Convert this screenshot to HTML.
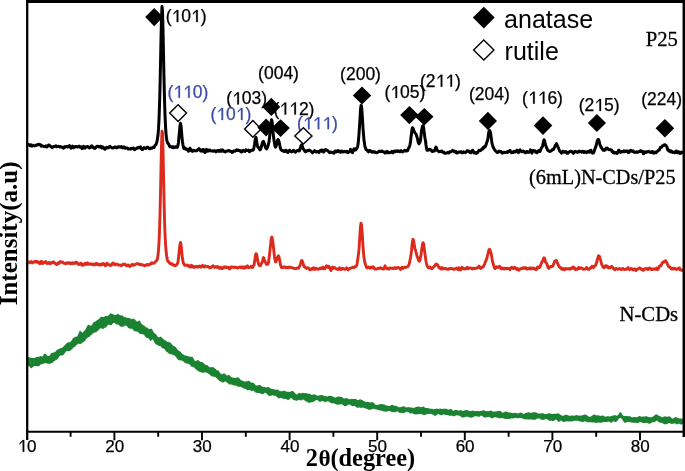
<!DOCTYPE html>
<html><head><meta charset="utf-8"><style>
html,body{margin:0;padding:0;background:#fff;}
body{width:685px;height:471px;overflow:hidden;font-family:"Liberation Sans",sans-serif;}
svg{display:block;}
</style></head><body>
<svg style="will-change:transform" width="685" height="471" viewBox="0 0 685 471">
<rect width="685" height="471" fill="#fff"/>
<path d="M28.0 357.0 L29.0 357.2 L30.0 357.6 L31.0 358.0 L32.0 358.1 L33.0 358.1 L34.0 357.8 L35.0 358.3 L36.0 357.0 L37.0 357.1 L38.0 356.7 L39.0 357.0 L40.0 356.1 L41.0 356.1 L42.0 356.7 L43.0 356.0 L44.0 353.7 L45.0 353.7 L46.0 353.9 L47.0 355.6 L48.0 356.0 L49.0 356.1 L50.0 355.3 L51.0 353.2 L52.0 353.0 L53.0 352.4 L54.0 352.5 L55.0 352.1 L56.0 350.9 L57.0 349.7 L58.0 349.4 L59.0 348.7 L60.0 348.6 L61.0 347.9 L62.0 348.1 L63.0 347.1 L64.0 346.1 L65.0 344.8 L66.0 344.1 L67.0 342.8 L68.0 342.5 L69.0 341.9 L70.0 342.4 L71.0 340.9 L72.0 339.9 L73.0 337.9 L74.0 337.7 L75.0 336.8 L76.0 336.7 L77.0 336.4 L78.0 335.1 L79.0 332.3 L80.0 330.6 L81.0 331.6 L82.0 332.4 L83.0 332.6 L84.0 330.7 L85.0 330.6 L86.0 328.2 L87.0 326.4 L88.0 324.4 L89.0 325.0 L90.0 325.6 L91.0 325.8 L92.0 325.0 L93.0 322.8 L94.0 322.3 L95.0 321.4 L96.0 321.2 L97.0 319.9 L98.0 319.7 L99.0 318.8 L100.0 318.0 L101.0 316.6 L102.0 317.1 L103.0 316.8 L104.0 317.3 L105.0 315.9 L106.0 316.1 L107.0 315.7 L108.0 316.3 L109.0 314.8 L110.0 314.1 L111.0 312.9 L112.0 314.0 L113.0 313.9 L114.0 315.1 L115.0 315.3 L116.0 314.8 L117.0 314.5 L118.0 313.4 L119.0 314.7 L120.0 315.1 L121.0 315.4 L122.0 315.6 L123.0 315.6 L124.0 317.4 L125.0 316.4 L126.0 317.7 L127.0 317.6 L128.0 317.9 L129.0 318.0 L130.0 318.0 L131.0 319.5 L132.0 318.5 L133.0 318.9 L134.0 318.5 L135.0 319.7 L136.0 320.6 L137.0 321.8 L138.0 321.3 L139.0 320.5 L140.0 320.8 L141.0 323.0 L142.0 324.3 L143.0 324.9 L144.0 325.4 L145.0 326.3 L146.0 327.6 L147.0 327.2 L148.0 328.5 L149.0 328.7 L150.0 329.2 L151.0 328.6 L152.0 329.0 L153.0 330.9 L154.0 332.8 L155.0 333.7 L156.0 334.0 L157.0 335.7 L158.0 336.9 L159.0 337.6 L160.0 336.8 L161.0 336.8 L162.0 337.7 L163.0 338.7 L164.0 339.5 L165.0 340.5 L166.0 340.6 L167.0 341.8 L168.0 341.8 L169.0 342.3 L170.0 342.3 L171.0 343.3 L172.0 344.5 L173.0 345.6 L174.0 346.0 L175.0 346.7 L176.0 347.2 L177.0 348.9 L178.0 350.0 L179.0 351.0 L180.0 351.2 L181.0 352.3 L182.0 353.4 L183.0 354.6 L184.0 354.6 L185.0 355.7 L186.0 355.3 L187.0 356.3 L188.0 355.7 L189.0 356.7 L190.0 356.6 L191.0 357.0 L192.0 356.5 L193.0 357.6 L194.0 359.4 L195.0 361.0 L196.0 361.3 L197.0 360.0 L198.0 360.3 L199.0 360.5 L200.0 361.8 L201.0 362.0 L202.0 362.1 L203.0 362.4 L204.0 363.6 L205.0 364.4 L206.0 365.1 L207.0 365.0 L208.0 365.8 L209.0 366.7 L210.0 367.5 L211.0 367.1 L212.0 367.2 L213.0 367.3 L214.0 367.4 L215.0 368.6 L216.0 369.3 L217.0 370.5 L218.0 370.3 L219.0 371.1 L220.0 372.9 L221.0 373.7 L222.0 374.6 L223.0 373.5 L224.0 373.6 L225.0 373.4 L226.0 375.0 L227.0 375.6 L228.0 375.2 L229.0 374.9 L230.0 375.4 L231.0 376.9 L232.0 377.3 L233.0 377.8 L234.0 377.7 L235.0 378.1 L236.0 377.8 L237.0 377.8 L238.0 376.9 L239.0 377.9 L240.0 378.9 L241.0 380.3 L242.0 380.3 L243.0 381.0 L244.0 381.0 L245.0 381.9 L246.0 380.9 L247.0 381.4 L248.0 380.4 L249.0 380.9 L250.0 381.4 L251.0 382.4 L252.0 382.7 L253.0 382.5 L254.0 383.2 L255.0 384.6 L256.0 385.5 L257.0 385.4 L258.0 385.4 L259.0 384.8 L260.0 385.0 L261.0 385.5 L262.0 386.8 L263.0 386.8 L264.0 387.0 L265.0 386.9 L266.0 387.6 L267.0 387.2 L268.0 387.1 L269.0 387.2 L270.0 388.1 L271.0 388.7 L272.0 389.0 L273.0 389.0 L274.0 389.3 L275.0 389.8 L276.0 389.6 L277.0 389.8 L278.0 389.5 L279.0 390.4 L280.0 391.2 L281.0 391.0 L282.0 391.4 L283.0 390.5 L284.0 391.0 L285.0 390.8 L286.0 391.4 L287.0 391.7 L288.0 391.7 L289.0 391.7 L290.0 391.9 L291.0 391.2 L292.0 391.0 L293.0 391.0 L294.0 392.0 L295.0 393.0 L296.0 394.3 L297.0 394.4 L298.0 393.7 L299.0 392.7 L300.0 393.0 L301.0 393.5 L302.0 393.0 L303.0 392.7 L304.0 393.0 L305.0 393.2 L306.0 393.1 L307.0 393.5 L308.0 393.4 L309.0 394.1 L310.0 393.6 L311.0 394.8 L312.0 394.8 L313.0 394.6 L314.0 394.5 L315.0 394.2 L316.0 395.2 L317.0 395.4 L318.0 395.8 L319.0 395.5 L320.0 395.3 L321.0 394.9 L322.0 394.9 L323.0 395.3 L324.0 395.9 L325.0 395.9 L326.0 396.2 L327.0 396.4 L328.0 396.2 L329.0 395.8 L330.0 395.7 L331.0 395.9 L332.0 395.9 L333.0 396.7 L334.0 397.0 L335.0 397.8 L336.0 397.2 L337.0 397.0 L338.0 396.4 L339.0 396.6 L340.0 396.7 L341.0 397.0 L342.0 397.1 L343.0 398.1 L344.0 398.5 L345.0 398.5 L346.0 398.0 L347.0 398.3 L348.0 398.8 L349.0 399.0 L350.0 399.4 L351.0 398.8 L352.0 398.9 L353.0 399.1 L354.0 398.9 L355.0 398.9 L356.0 398.8 L357.0 400.0 L358.0 400.0 L359.0 399.7 L360.0 399.2 L361.0 399.4 L362.0 399.9 L363.0 400.5 L364.0 401.3 L365.0 401.5 L366.0 402.0 L367.0 401.7 L368.0 402.0 L369.0 401.9 L370.0 402.4 L371.0 402.4 L372.0 401.9 L373.0 402.3 L374.0 402.9 L375.0 404.6 L376.0 404.8 L377.0 405.1 L378.0 404.7 L379.0 404.4 L380.0 404.3 L381.0 403.8 L382.0 404.2 L383.0 404.3 L384.0 404.5 L385.0 404.8 L386.0 405.2 L387.0 405.8 L388.0 405.7 L389.0 405.9 L390.0 405.7 L391.0 405.3 L392.0 404.8 L393.0 405.1 L394.0 405.7 L395.0 405.7 L396.0 405.9 L397.0 406.0 L398.0 407.0 L399.0 407.2 L400.0 407.2 L401.0 406.9 L402.0 406.6 L403.0 406.4 L404.0 406.3 L405.0 406.8 L406.0 407.4 L407.0 407.2 L408.0 407.2 L409.0 406.9 L410.0 407.4 L411.0 407.5 L412.0 407.5 L413.0 408.1 L414.0 407.7 L415.0 407.5 L416.0 407.1 L417.0 406.8 L418.0 406.8 L419.0 406.5 L420.0 406.9 L421.0 407.3 L422.0 406.9 L423.0 406.6 L424.0 406.8 L425.0 407.7 L426.0 407.9 L427.0 408.0 L428.0 407.9 L429.0 408.6 L430.0 408.4 L431.0 409.0 L432.0 408.5 L433.0 409.3 L434.0 409.2 L435.0 409.1 L436.0 408.7 L437.0 408.4 L438.0 409.1 L439.0 408.8 L440.0 408.7 L441.0 408.6 L442.0 409.1 L443.0 409.0 L444.0 408.6 L445.0 408.7 L446.0 408.7 L447.0 409.1 L448.0 409.4 L449.0 409.8 L450.0 408.9 L451.0 408.9 L452.0 409.4 L453.0 410.7 L454.0 410.7 L455.0 409.8 L456.0 409.9 L457.0 409.8 L458.0 410.7 L459.0 410.4 L460.0 410.3 L461.0 410.1 L462.0 410.7 L463.0 411.0 L464.0 410.9 L465.0 410.0 L466.0 410.0 L467.0 410.0 L468.0 410.5 L469.0 410.7 L470.0 411.0 L471.0 411.0 L472.0 410.8 L473.0 410.6 L474.0 410.9 L475.0 411.1 L476.0 411.2 L477.0 410.8 L478.0 411.0 L479.0 411.3 L480.0 411.1 L481.0 411.0 L482.0 410.7 L483.0 410.3 L484.0 410.3 L485.0 410.8 L486.0 411.3 L487.0 411.1 L488.0 411.2 L489.0 411.0 L490.0 410.8 L491.0 410.5 L492.0 411.0 L493.0 411.7 L494.0 411.6 L495.0 411.4 L496.0 411.4 L497.0 411.3 L498.0 411.0 L499.0 410.7 L500.0 411.1 L501.0 411.2 L502.0 412.4 L503.0 412.4 L504.0 412.4 L505.0 411.6 L506.0 411.5 L507.0 412.1 L508.0 412.3 L509.0 412.4 L510.0 412.4 L511.0 412.5 L512.0 413.2 L513.0 413.1 L514.0 413.0 L515.0 412.7 L516.0 413.0 L517.0 413.3 L518.0 413.4 L519.0 413.0 L520.0 412.7 L521.0 412.5 L522.0 412.9 L523.0 413.7 L524.0 414.0 L525.0 413.3 L526.0 413.1 L527.0 412.5 L528.0 412.5 L529.0 412.2 L530.0 412.4 L531.0 413.0 L532.0 412.4 L533.0 412.2 L534.0 412.3 L535.0 412.3 L536.0 412.6 L537.0 412.8 L538.0 413.4 L539.0 413.6 L540.0 413.6 L541.0 413.4 L542.0 413.1 L543.0 413.2 L544.0 413.8 L545.0 414.3 L546.0 414.1 L547.0 414.0 L548.0 413.4 L549.0 413.3 L550.0 413.3 L551.0 413.9 L552.0 414.1 L553.0 414.0 L554.0 413.7 L555.0 413.7 L556.0 413.8 L557.0 413.6 L558.0 413.6 L559.0 413.5 L560.0 414.5 L561.0 415.1 L562.0 415.8 L563.0 415.8 L564.0 415.5 L565.0 415.0 L566.0 414.4 L567.0 414.9 L568.0 415.3 L569.0 415.8 L570.0 415.7 L571.0 415.7 L572.0 415.6 L573.0 415.6 L574.0 415.8 L575.0 415.6 L576.0 415.3 L577.0 414.9 L578.0 415.5 L579.0 415.7 L580.0 415.6 L581.0 415.5 L582.0 415.4 L583.0 415.1 L584.0 414.7 L585.0 414.2 L586.0 414.9 L587.0 415.2 L588.0 416.0 L589.0 416.7 L590.0 416.7 L591.0 416.5 L592.0 415.7 L593.0 415.0 L594.0 414.6 L595.0 414.5 L596.0 415.4 L597.0 415.3 L598.0 415.2 L599.0 415.4 L600.0 415.8 L601.0 416.0 L602.0 415.6 L603.0 415.6 L604.0 416.0 L605.0 416.8 L606.0 416.5 L607.0 416.4 L608.0 416.0 L609.0 416.4 L610.0 416.4 L611.0 416.0 L612.0 416.1 L613.0 415.3 L614.0 415.5 L615.0 415.0 L616.0 415.6 L617.0 415.7 L618.0 415.1 L619.0 413.6 L620.0 411.9 L621.0 412.5 L622.0 413.9 L623.0 415.6 L624.0 416.0 L625.0 416.0 L626.0 415.7 L627.0 416.3 L628.0 416.1 L629.0 416.2 L630.0 416.2 L631.0 416.7 L632.0 417.4 L633.0 417.2 L634.0 417.0 L635.0 416.9 L636.0 417.3 L637.0 417.3 L638.0 416.7 L639.0 415.9 L640.0 416.3 L641.0 416.4 L642.0 416.7 L643.0 416.6 L644.0 416.6 L645.0 416.5 L646.0 416.1 L647.0 416.4 L648.0 416.7 L649.0 417.1 L650.0 417.3 L651.0 417.2 L652.0 417.0 L653.0 416.4 L654.0 415.8 L655.0 414.9 L656.0 414.3 L657.0 414.5 L658.0 415.2 L659.0 415.7 L660.0 416.2 L661.0 416.5 L662.0 417.5 L663.0 417.0 L664.0 416.8 L665.0 416.1 L666.0 416.7 L667.0 416.8 L668.0 416.7 L669.0 416.3 L670.0 416.6 L671.0 417.5 L672.0 418.5 L673.0 418.5 L674.0 418.1 L675.0 417.3 L676.0 417.1 L677.0 417.5 L678.0 418.0 L679.0 418.5 L680.0 418.2 L681.0 418.5 L682.0 418.7 L683.0 418.7 L683.0 423.8 L682.0 424.6 L681.0 424.4 L680.0 424.3 L679.0 423.4 L678.0 424.0 L677.0 424.4 L676.0 423.9 L675.0 423.3 L674.0 423.5 L673.0 423.7 L672.0 424.0 L671.0 423.7 L670.0 423.3 L669.0 423.1 L668.0 423.4 L667.0 424.1 L666.0 424.3 L665.0 424.5 L664.0 423.7 L663.0 423.7 L662.0 422.7 L661.0 422.8 L660.0 422.7 L659.0 422.2 L658.0 421.6 L657.0 420.5 L656.0 421.3 L655.0 421.8 L654.0 422.5 L653.0 422.0 L652.0 422.6 L651.0 422.9 L650.0 423.8 L649.0 423.7 L648.0 423.2 L647.0 423.1 L646.0 422.8 L645.0 422.9 L644.0 423.0 L643.0 423.2 L642.0 422.6 L641.0 422.2 L640.0 421.9 L639.0 422.5 L638.0 423.1 L637.0 423.0 L636.0 423.0 L635.0 422.6 L634.0 422.9 L633.0 422.6 L632.0 422.7 L631.0 422.3 L630.0 422.3 L629.0 421.8 L628.0 421.9 L627.0 422.0 L626.0 422.4 L625.0 422.9 L624.0 422.3 L623.0 420.7 L622.0 419.3 L621.0 417.9 L620.0 417.9 L619.0 418.5 L618.0 420.1 L617.0 421.2 L616.0 422.0 L615.0 421.9 L614.0 421.3 L613.0 421.5 L612.0 422.3 L611.0 423.0 L610.0 422.3 L609.0 421.6 L608.0 421.8 L607.0 422.0 L606.0 422.1 L605.0 421.9 L604.0 421.9 L603.0 422.3 L602.0 422.5 L601.0 422.8 L600.0 422.7 L599.0 422.4 L598.0 422.6 L597.0 422.8 L596.0 423.3 L595.0 422.6 L594.0 422.4 L593.0 422.4 L592.0 422.6 L591.0 422.3 L590.0 422.3 L589.0 422.2 L588.0 422.3 L587.0 422.2 L586.0 421.6 L585.0 421.4 L584.0 421.2 L583.0 422.2 L582.0 421.9 L581.0 421.6 L580.0 421.4 L579.0 421.2 L578.0 421.1 L577.0 420.4 L576.0 421.0 L575.0 420.6 L574.0 421.0 L573.0 421.1 L572.0 421.5 L571.0 421.6 L570.0 421.2 L569.0 421.5 L568.0 421.5 L567.0 421.3 L566.0 421.5 L565.0 421.4 L564.0 421.9 L563.0 421.9 L562.0 421.1 L561.0 420.5 L560.0 421.1 L559.0 422.0 L558.0 421.7 L557.0 420.0 L556.0 419.5 L555.0 419.9 L554.0 420.7 L553.0 420.9 L552.0 420.9 L551.0 420.5 L550.0 420.9 L549.0 420.6 L548.0 420.0 L547.0 419.2 L546.0 419.1 L545.0 419.4 L544.0 419.4 L543.0 420.0 L542.0 420.0 L541.0 419.4 L540.0 418.8 L539.0 418.3 L538.0 418.7 L537.0 418.6 L536.0 419.6 L535.0 419.6 L534.0 420.2 L533.0 419.5 L532.0 419.6 L531.0 419.4 L530.0 419.5 L529.0 419.6 L528.0 419.5 L527.0 419.3 L526.0 419.5 L525.0 419.2 L524.0 419.4 L523.0 418.5 L522.0 418.4 L521.0 418.0 L520.0 417.8 L519.0 418.3 L518.0 418.0 L517.0 418.4 L516.0 417.7 L515.0 418.1 L514.0 418.2 L513.0 418.5 L512.0 418.3 L511.0 418.4 L510.0 418.7 L509.0 418.9 L508.0 419.1 L507.0 418.8 L506.0 419.0 L505.0 419.0 L504.0 418.5 L503.0 418.3 L502.0 418.0 L501.0 418.2 L500.0 418.4 L499.0 418.1 L498.0 418.1 L497.0 417.6 L496.0 417.5 L495.0 417.1 L494.0 417.4 L493.0 417.9 L492.0 418.4 L491.0 418.0 L490.0 417.2 L489.0 416.7 L488.0 417.0 L487.0 416.9 L486.0 417.8 L485.0 417.3 L484.0 417.7 L483.0 416.5 L482.0 416.1 L481.0 415.6 L480.0 416.2 L479.0 417.0 L478.0 416.6 L477.0 416.5 L476.0 416.1 L475.0 416.5 L474.0 416.5 L473.0 417.2 L472.0 417.4 L471.0 417.8 L470.0 417.4 L469.0 417.3 L468.0 417.1 L467.0 416.5 L466.0 416.8 L465.0 416.9 L464.0 417.5 L463.0 417.6 L462.0 417.4 L461.0 416.7 L460.0 415.9 L459.0 415.5 L458.0 415.4 L457.0 415.2 L456.0 415.2 L455.0 415.9 L454.0 416.5 L453.0 416.0 L452.0 415.8 L451.0 415.6 L450.0 416.0 L449.0 415.5 L448.0 415.2 L447.0 414.9 L446.0 415.1 L445.0 414.8 L444.0 414.6 L443.0 414.6 L442.0 415.2 L441.0 415.3 L440.0 415.0 L439.0 414.3 L438.0 413.9 L437.0 414.8 L436.0 415.5 L435.0 416.1 L434.0 415.4 L433.0 414.5 L432.0 414.4 L431.0 413.8 L430.0 414.1 L429.0 413.7 L428.0 414.3 L427.0 414.0 L426.0 414.4 L425.0 414.9 L424.0 415.2 L423.0 414.7 L422.0 414.3 L421.0 413.9 L420.0 414.2 L419.0 414.1 L418.0 414.3 L417.0 414.5 L416.0 414.3 L415.0 414.6 L414.0 414.0 L413.0 413.7 L412.0 413.1 L411.0 413.6 L410.0 413.4 L409.0 412.6 L408.0 412.0 L407.0 411.8 L406.0 412.0 L405.0 412.5 L404.0 412.9 L403.0 413.2 L402.0 412.9 L401.0 412.7 L400.0 413.0 L399.0 412.8 L398.0 411.4 L397.0 411.5 L396.0 411.8 L395.0 412.5 L394.0 412.2 L393.0 412.0 L392.0 411.9 L391.0 411.7 L390.0 410.9 L389.0 411.0 L388.0 411.2 L387.0 411.5 L386.0 411.8 L385.0 411.6 L384.0 411.5 L383.0 411.2 L382.0 410.8 L381.0 410.4 L380.0 410.7 L379.0 410.0 L378.0 410.0 L377.0 409.5 L376.0 409.6 L375.0 409.2 L374.0 408.5 L373.0 409.0 L372.0 409.0 L371.0 409.8 L370.0 409.4 L369.0 410.0 L368.0 409.4 L367.0 408.8 L366.0 408.7 L365.0 408.2 L364.0 408.0 L363.0 407.4 L362.0 407.8 L361.0 407.9 L360.0 407.4 L359.0 407.4 L358.0 407.7 L357.0 407.7 L356.0 407.1 L355.0 406.1 L354.0 406.1 L353.0 406.2 L352.0 406.1 L351.0 405.6 L350.0 404.6 L349.0 404.8 L348.0 404.4 L347.0 405.7 L346.0 405.9 L345.0 406.5 L344.0 405.7 L343.0 405.1 L342.0 404.3 L341.0 404.3 L340.0 404.4 L339.0 404.6 L338.0 404.8 L337.0 404.6 L336.0 404.4 L335.0 403.8 L334.0 403.2 L333.0 403.5 L332.0 403.2 L331.0 403.0 L330.0 402.4 L329.0 401.5 L328.0 401.6 L327.0 401.3 L326.0 401.9 L325.0 402.2 L324.0 401.7 L323.0 401.0 L322.0 401.0 L321.0 401.6 L320.0 402.1 L319.0 401.5 L318.0 400.6 L317.0 400.1 L316.0 399.9 L315.0 401.0 L314.0 401.5 L313.0 402.3 L312.0 401.9 L311.0 402.5 L310.0 402.4 L309.0 403.0 L308.0 402.6 L307.0 401.7 L306.0 401.4 L305.0 400.7 L304.0 399.9 L303.0 399.6 L302.0 399.8 L301.0 400.8 L300.0 399.9 L299.0 399.8 L298.0 400.3 L297.0 400.7 L296.0 400.7 L295.0 400.2 L294.0 400.3 L293.0 399.7 L292.0 398.6 L291.0 397.9 L290.0 398.7 L289.0 399.7 L288.0 400.2 L287.0 399.6 L286.0 398.9 L285.0 398.8 L284.0 398.9 L283.0 398.8 L282.0 398.3 L281.0 398.1 L280.0 397.8 L279.0 398.8 L278.0 397.8 L277.0 397.2 L276.0 395.8 L275.0 395.8 L274.0 395.8 L273.0 395.5 L272.0 395.1 L271.0 396.0 L270.0 395.8 L269.0 396.3 L268.0 395.1 L267.0 394.0 L266.0 393.2 L265.0 392.6 L264.0 393.9 L263.0 393.7 L262.0 394.4 L261.0 393.6 L260.0 393.6 L259.0 392.9 L258.0 392.9 L257.0 392.8 L256.0 393.1 L255.0 392.1 L254.0 391.3 L253.0 390.3 L252.0 391.4 L251.0 390.8 L250.0 390.1 L249.0 389.9 L248.0 389.9 L247.0 390.4 L246.0 389.0 L245.0 388.8 L244.0 388.7 L243.0 388.1 L242.0 387.6 L241.0 386.9 L240.0 386.7 L239.0 386.8 L238.0 386.8 L237.0 386.2 L236.0 385.5 L235.0 385.5 L234.0 385.6 L233.0 385.3 L232.0 384.4 L231.0 384.4 L230.0 384.6 L229.0 384.4 L228.0 383.2 L227.0 382.7 L226.0 381.5 L225.0 381.4 L224.0 382.3 L223.0 382.5 L222.0 382.5 L221.0 381.6 L220.0 381.3 L219.0 380.7 L218.0 379.4 L217.0 378.5 L216.0 377.4 L215.0 376.9 L214.0 376.7 L213.0 376.5 L212.0 376.5 L211.0 375.9 L210.0 374.8 L209.0 374.3 L208.0 373.6 L207.0 373.1 L206.0 372.3 L205.0 372.5 L204.0 372.5 L203.0 373.1 L202.0 372.3 L201.0 372.6 L200.0 371.9 L199.0 371.6 L198.0 371.3 L197.0 369.9 L196.0 369.6 L195.0 368.4 L194.0 367.3 L193.0 367.3 L192.0 366.6 L191.0 366.7 L190.0 364.6 L189.0 364.4 L188.0 363.6 L187.0 363.7 L186.0 363.2 L185.0 362.9 L184.0 362.1 L183.0 361.3 L182.0 360.6 L181.0 360.6 L180.0 360.3 L179.0 360.3 L178.0 359.7 L177.0 358.5 L176.0 356.9 L175.0 356.1 L174.0 355.1 L173.0 355.6 L172.0 354.1 L171.0 354.5 L170.0 354.2 L169.0 353.6 L168.0 353.0 L167.0 351.8 L166.0 351.4 L165.0 349.4 L164.0 348.8 L163.0 348.3 L162.0 348.2 L161.0 346.6 L160.0 346.0 L159.0 346.2 L158.0 345.3 L157.0 344.9 L156.0 344.3 L155.0 343.6 L154.0 341.4 L153.0 339.4 L152.0 339.6 L151.0 341.0 L150.0 340.8 L149.0 338.8 L148.0 338.0 L147.0 338.2 L146.0 337.2 L145.0 336.2 L144.0 334.5 L143.0 334.5 L142.0 333.9 L141.0 334.2 L140.0 333.8 L139.0 333.3 L138.0 331.7 L137.0 331.7 L136.0 331.2 L135.0 331.4 L134.0 331.0 L133.0 329.6 L132.0 328.7 L131.0 328.4 L130.0 329.0 L129.0 327.9 L128.0 327.9 L127.0 326.0 L126.0 326.1 L125.0 324.9 L124.0 326.9 L123.0 326.3 L122.0 327.4 L121.0 326.2 L120.0 326.7 L119.0 325.1 L118.0 324.5 L117.0 324.5 L116.0 324.4 L115.0 323.0 L114.0 323.0 L113.0 323.1 L112.0 325.0 L111.0 325.0 L110.0 325.3 L109.0 324.4 L108.0 325.1 L107.0 326.0 L106.0 327.8 L105.0 327.5 L104.0 328.3 L103.0 329.2 L102.0 328.6 L101.0 328.5 L100.0 328.2 L99.0 330.1 L98.0 330.6 L97.0 331.5 L96.0 332.4 L95.0 332.2 L94.0 333.0 L93.0 333.2 L92.0 334.8 L91.0 334.7 L90.0 336.5 L89.0 337.1 L88.0 337.3 L87.0 338.3 L86.0 339.3 L85.0 341.3 L84.0 341.4 L83.0 342.4 L82.0 342.8 L81.0 344.2 L80.0 343.8 L79.0 344.1 L78.0 343.5 L77.0 345.0 L76.0 345.2 L75.0 347.0 L74.0 346.8 L73.0 348.4 L72.0 348.7 L71.0 350.4 L70.0 350.8 L69.0 351.2 L68.0 350.9 L67.0 351.0 L66.0 351.5 L65.0 352.8 L64.0 354.3 L63.0 355.2 L62.0 355.5 L61.0 355.5 L60.0 355.5 L59.0 357.0 L58.0 358.2 L57.0 359.9 L56.0 359.4 L55.0 360.9 L54.0 361.1 L53.0 362.6 L52.0 362.9 L51.0 363.0 L50.0 363.9 L49.0 363.7 L48.0 363.8 L47.0 363.5 L46.0 363.2 L45.0 363.2 L44.0 363.6 L43.0 363.7 L42.0 364.6 L41.0 364.1 L40.0 365.5 L39.0 365.9 L38.0 366.3 L37.0 366.2 L36.0 365.9 L35.0 366.1 L34.0 366.1 L33.0 367.1 L32.0 367.8 L31.0 368.4 L30.0 367.3 L29.0 366.1 L28.0 365.9Z" fill="#1b8232"/>
<path d="M28.0 145.2L28.5 144.5L29.0 144.9L29.5 145.1L30.0 145.6L30.5 144.7L31.0 145.4L31.5 145.1L32.0 146.1L32.5 145.5L33.0 145.4L33.5 145.3L34.0 145.8L34.5 145.9L35.0 145.7L35.5 145.6L36.0 145.4L36.5 144.9L37.0 144.8L37.5 144.9L38.0 144.8L38.5 144.3L39.0 144.4L39.5 144.8L40.0 144.5L40.5 144.8L41.0 145.6L41.5 146.2L42.0 145.9L42.5 145.7L43.0 146.2L43.5 146.4L44.0 146.5L44.5 146.6L45.0 146.7L45.5 146.1L46.0 145.9L46.5 146.1L47.0 146.9L47.5 146.2L48.0 145.9L48.5 145.1L49.0 144.9L49.5 145.3L50.0 145.8L50.5 146.2L51.0 146.8L51.5 146.9L52.0 147.5L52.5 147.1L53.0 147.2L53.5 146.4L54.0 146.5L54.5 146.4L55.0 146.2L55.5 146.1L56.0 145.8L56.5 146.8L57.0 146.5L57.5 146.6L58.0 146.5L58.5 146.3L59.0 146.6L59.5 146.4L60.0 147.0L60.5 146.5L61.0 147.0L61.5 147.1L62.0 147.3L62.5 147.1L63.0 147.4L63.5 148.2L64.0 147.3L64.5 147.1L65.0 146.6L65.5 147.2L66.0 146.5L66.5 146.8L67.0 146.3L67.5 147.0L68.0 147.0L68.5 146.9L69.0 146.5L69.5 145.5L70.0 146.2L70.5 147.0L71.0 148.3L71.5 147.5L72.0 146.7L72.5 146.1L73.0 147.5L73.5 147.9L74.0 147.3L74.5 146.8L75.0 146.7L75.5 146.9L76.0 146.5L76.5 146.7L77.0 146.9L77.5 147.1L78.0 146.9L78.5 146.3L79.0 146.1L79.5 146.7L80.0 147.1L80.5 146.8L81.0 146.8L81.5 147.1L82.0 148.6L82.5 148.1L83.0 147.7L83.5 146.2L84.0 146.7L84.5 148.0L85.0 148.2L85.5 147.5L86.0 146.7L86.5 146.7L87.0 146.8L87.5 146.5L88.0 146.9L88.5 147.4L89.0 147.6L89.5 147.9L90.0 147.3L90.5 147.4L91.0 146.2L91.5 145.8L92.0 146.0L92.5 146.6L93.0 147.4L93.5 147.3L94.0 148.1L94.5 148.2L95.0 148.4L95.5 147.8L96.0 147.2L96.5 146.5L97.0 146.4L97.5 146.2L98.0 146.3L98.5 146.5L99.0 147.0L99.5 147.1L100.0 146.4L100.5 146.3L101.0 146.5L101.5 147.7L102.0 148.0L102.5 147.7L103.0 146.9L103.5 147.5L104.0 148.1L104.5 149.1L105.0 149.2L105.5 148.6L106.0 148.0L106.5 147.3L107.0 147.9L107.5 147.9L108.0 147.8L108.5 147.7L109.0 146.9L109.5 146.7L110.0 146.4L110.5 147.0L111.0 146.9L111.5 147.5L112.0 147.8L112.5 148.1L113.0 148.0L113.5 147.7L114.0 147.4L114.5 147.2L115.0 147.0L115.5 147.3L116.0 147.4L116.5 147.8L117.0 147.1L117.5 147.5L118.0 146.9L118.5 147.2L119.0 146.8L119.5 146.8L120.0 147.3L120.5 147.2L121.0 147.0L121.5 146.6L122.0 147.4L122.5 147.9L123.0 147.8L123.5 147.4L124.0 146.8L124.5 148.0L125.0 147.4L125.5 148.3L126.0 147.9L126.5 147.9L127.0 147.9L127.5 148.1L128.0 149.0L128.5 149.0L129.0 149.0L129.5 149.0L130.0 149.0L130.5 148.6L131.0 148.9L131.5 148.4L132.0 148.7L132.5 148.3L133.0 148.2L133.5 148.1L134.0 149.0L134.5 149.8L135.0 149.4L135.5 149.0L136.0 148.5L136.5 148.6L137.0 148.4L137.5 147.6L138.0 147.7L138.5 147.3L139.0 147.9L139.5 147.3L140.0 147.1L140.5 146.9L141.0 147.9L141.5 149.1L142.0 149.5L142.5 149.6L143.0 148.8L143.5 148.0L144.0 147.6L144.5 147.9L145.0 148.4L145.5 148.5L146.0 148.5L146.5 148.2L147.0 147.5L147.5 147.1L148.0 147.3L148.5 147.7L149.0 148.1L149.5 148.8L150.0 148.6L150.5 148.4L151.0 148.0L151.5 148.3L152.0 148.2L152.5 147.5L153.0 147.2L153.5 147.3L154.0 147.5L154.5 146.5L155.0 145.4L155.5 145.0L156.0 144.6L156.5 143.0L157.0 141.6L157.5 138.6L158.0 135.3L158.5 128.7L159.0 119.3L159.5 105.7L160.0 87.2L160.5 64.2L161.0 39.3L161.5 17.7L162.0 6.6L162.5 10.9L163.0 29.1L163.5 54.3L164.0 78.7L164.5 99.3L165.0 115.0L165.5 125.9L166.0 133.6L166.5 138.0L167.0 141.1L167.5 142.6L168.0 143.4L168.5 143.9L169.0 144.9L169.5 146.1L170.0 146.7L170.5 146.6L171.0 146.6L171.5 147.1L172.0 146.9L172.5 147.4L173.0 146.7L173.5 147.7L174.0 147.4L174.5 147.5L175.0 146.8L175.5 146.8L176.0 147.4L176.5 146.8L177.0 146.6L177.5 147.1L178.0 145.2L178.5 142.2L179.0 136.2L179.5 131.5L180.0 125.7L180.5 123.2L181.0 125.5L181.5 131.3L182.0 137.8L182.5 141.8L183.0 145.0L183.5 147.5L184.0 148.5L184.5 148.7L185.0 147.9L185.5 148.4L186.0 149.3L186.5 149.5L187.0 149.4L187.5 149.2L188.0 150.3L188.5 151.2L189.0 150.1L189.5 149.0L190.0 148.2L190.5 149.6L191.0 149.6L191.5 150.8L192.0 151.0L192.5 151.4L193.0 150.8L193.5 150.4L194.0 150.2L194.5 150.7L195.0 150.9L195.5 150.7L196.0 150.7L196.5 150.6L197.0 150.7L197.5 149.9L198.0 149.6L198.5 149.4L199.0 148.6L199.5 149.3L200.0 149.8L200.5 150.9L201.0 150.9L201.5 150.9L202.0 151.1L202.5 149.7L203.0 149.5L203.5 149.5L204.0 151.2L204.5 152.1L205.0 152.5L205.5 151.3L206.0 149.7L206.5 149.4L207.0 149.9L207.5 151.2L208.0 150.9L208.5 151.0L209.0 150.0L209.5 150.3L210.0 150.0L210.5 150.8L211.0 150.8L211.5 151.0L212.0 151.0L212.5 150.8L213.0 151.2L213.5 151.2L214.0 151.0L214.5 150.5L215.0 151.0L215.5 151.2L216.0 151.9L216.5 151.3L217.0 151.2L217.5 150.5L218.0 150.4L218.5 150.7L219.0 151.3L219.5 150.7L220.0 150.4L220.5 150.1L221.0 151.3L221.5 150.6L222.0 150.8L222.5 149.9L223.0 151.1L223.5 150.7L224.0 151.1L224.5 151.5L225.0 151.9L225.5 151.9L226.0 151.4L226.5 151.0L227.0 151.0L227.5 150.8L228.0 150.8L228.5 150.5L229.0 150.5L229.5 151.2L230.0 151.2L230.5 151.1L231.0 151.3L231.5 151.8L232.0 152.5L232.5 152.2L233.0 151.7L233.5 151.0L234.0 150.7L234.5 151.1L235.0 151.3L235.5 150.8L236.0 150.4L236.5 149.8L237.0 150.5L237.5 150.0L238.0 150.1L238.5 150.1L239.0 150.5L239.5 150.4L240.0 150.6L240.5 151.5L241.0 151.6L241.5 152.0L242.0 150.9L242.5 151.3L243.0 150.5L243.5 150.2L244.0 150.9L244.5 151.1L245.0 151.4L245.5 150.8L246.0 149.9L246.5 150.1L247.0 150.6L247.5 150.5L248.0 150.4L248.5 150.1L249.0 151.1L249.5 151.8L250.0 151.5L250.5 150.7L251.0 150.3L251.5 150.2L252.0 150.2L252.5 150.1L253.0 150.3L253.5 149.5L254.0 147.3L254.5 144.5L255.0 140.9L255.5 138.6L256.0 137.3L256.5 140.4L257.0 143.3L257.5 146.3L258.0 147.3L258.5 147.3L259.0 148.3L259.5 149.3L260.0 149.9L260.5 149.4L261.0 148.1L261.5 146.2L262.0 144.3L262.5 142.4L263.0 141.7L263.5 141.4L264.0 142.8L264.5 144.1L265.0 146.1L265.5 147.5L266.0 148.3L266.5 149.0L267.0 148.2L267.5 147.4L268.0 145.9L268.5 143.9L269.0 142.1L269.5 137.7L270.0 133.4L270.5 127.3L271.0 122.9L271.5 119.7L272.0 121.0L272.5 125.6L273.0 131.5L273.5 136.8L274.0 140.2L274.5 143.6L275.0 145.9L275.5 147.1L276.0 146.5L276.5 144.7L277.0 142.8L277.5 140.4L278.0 139.6L278.5 140.1L279.0 141.6L279.5 143.9L280.0 146.3L280.5 148.4L281.0 149.8L281.5 150.1L282.0 150.5L282.5 150.5L283.0 150.8L283.5 151.3L284.0 150.7L284.5 151.3L285.0 150.8L285.5 151.3L286.0 150.2L286.5 150.8L287.0 151.4L287.5 152.4L288.0 152.5L288.5 151.4L289.0 150.7L289.5 150.2L290.0 150.4L290.5 151.2L291.0 151.5L291.5 151.9L292.0 151.6L292.5 151.2L293.0 150.8L293.5 150.3L294.0 150.9L294.5 151.4L295.0 151.9L295.5 152.2L296.0 151.4L296.5 151.0L297.0 150.5L297.5 150.5L298.0 150.3L298.5 150.4L299.0 151.0L299.5 150.8L300.0 149.3L300.5 147.3L301.0 145.8L301.5 144.8L302.0 145.4L302.5 146.8L303.0 148.4L303.5 149.3L304.0 149.7L304.5 150.7L305.0 151.4L305.5 151.7L306.0 151.8L306.5 151.0L307.0 150.7L307.5 150.5L308.0 150.8L308.5 150.7L309.0 150.1L309.5 150.2L310.0 150.6L310.5 150.7L311.0 151.2L311.5 152.0L312.0 152.3L312.5 152.8L313.0 152.2L313.5 151.8L314.0 151.2L314.5 150.7L315.0 151.5L315.5 151.1L316.0 152.0L316.5 152.0L317.0 151.6L317.5 151.4L318.0 151.8L318.5 152.3L319.0 152.4L319.5 151.0L320.0 151.4L320.5 150.3L321.0 151.3L321.5 150.4L322.0 150.0L322.5 149.9L323.0 151.4L323.5 152.0L324.0 151.8L324.5 150.5L325.0 150.0L325.5 149.5L326.0 149.9L326.5 149.9L327.0 150.4L327.5 150.4L328.0 150.8L328.5 151.5L329.0 152.3L329.5 152.6L330.0 152.7L330.5 152.0L331.0 152.3L331.5 152.3L332.0 152.3L332.5 152.5L333.0 152.6L333.5 153.0L334.0 153.2L334.5 152.0L335.0 150.9L335.5 151.0L336.0 151.2L336.5 151.9L337.0 151.0L337.5 151.3L338.0 150.7L338.5 151.8L339.0 151.5L339.5 151.9L340.0 151.2L340.5 152.1L341.0 151.6L341.5 151.6L342.0 151.0L342.5 151.8L343.0 152.0L343.5 151.9L344.0 151.8L344.5 151.4L345.0 151.8L345.5 151.6L346.0 151.5L346.5 151.3L347.0 151.5L347.5 152.6L348.0 152.4L348.5 152.4L349.0 152.0L349.5 151.3L350.0 150.5L350.5 149.3L351.0 150.1L351.5 151.7L352.0 152.3L352.5 152.7L353.0 151.5L353.5 150.3L354.0 148.7L354.5 149.0L355.0 149.8L355.5 150.0L356.0 149.6L356.5 148.3L357.0 148.4L357.5 146.9L358.0 144.7L358.5 139.8L359.0 133.9L359.5 126.3L360.0 118.5L360.5 109.7L361.0 105.6L361.5 105.9L362.0 111.9L362.5 119.5L363.0 128.0L363.5 134.5L364.0 140.1L364.5 143.5L365.0 146.9L365.5 147.9L366.0 149.6L366.5 149.7L367.0 150.2L367.5 150.3L368.0 151.3L368.5 151.9L369.0 151.1L369.5 150.5L370.0 150.4L370.5 150.8L371.0 151.5L371.5 152.0L372.0 152.2L372.5 151.8L373.0 151.6L373.5 151.9L374.0 152.2L374.5 152.1L375.0 151.8L375.5 152.5L376.0 152.8L376.5 152.7L377.0 152.6L377.5 152.4L378.0 152.1L378.5 151.5L379.0 151.2L379.5 151.4L380.0 151.3L380.5 151.6L381.0 151.5L381.5 151.1L382.0 151.0L382.5 151.7L383.0 151.7L383.5 151.7L384.0 152.1L384.5 152.1L385.0 153.0L385.5 152.7L386.0 152.8L386.5 151.7L387.0 151.3L387.5 151.6L388.0 152.6L388.5 152.4L389.0 152.7L389.5 152.8L390.0 152.4L390.5 152.5L391.0 152.0L391.5 152.2L392.0 151.4L392.5 152.1L393.0 152.8L393.5 152.1L394.0 151.4L394.5 151.0L395.0 151.6L395.5 151.3L396.0 150.8L396.5 151.2L397.0 151.0L397.5 151.5L398.0 150.8L398.5 150.9L399.0 151.3L399.5 151.7L400.0 151.7L400.5 151.0L401.0 150.6L401.5 151.3L402.0 151.7L402.5 151.9L403.0 151.3L403.5 151.1L404.0 151.0L404.5 150.4L405.0 151.0L405.5 150.5L406.0 150.9L406.5 150.6L407.0 150.9L407.5 150.8L408.0 149.6L408.5 148.3L409.0 147.4L409.5 146.5L410.0 144.6L410.5 142.1L411.0 137.4L411.5 133.4L412.0 129.5L412.5 127.7L413.0 128.3L413.5 129.4L414.0 131.2L414.5 132.1L415.0 133.0L415.5 133.5L416.0 134.0L416.5 135.5L417.0 137.2L417.5 138.8L418.0 141.5L418.5 142.8L419.0 143.7L419.5 142.8L420.0 142.3L420.5 140.0L421.0 135.6L421.5 131.0L422.0 128.3L422.5 126.2L423.0 125.7L423.5 126.9L424.0 130.9L424.5 134.7L425.0 138.5L425.5 140.8L426.0 145.0L426.5 147.9L427.0 150.2L427.5 150.2L428.0 150.3L428.5 149.5L429.0 149.9L429.5 149.3L430.0 149.8L430.5 149.5L431.0 150.0L431.5 150.8L432.0 151.4L432.5 151.6L433.0 151.0L433.5 150.8L434.0 150.4L434.5 150.9L435.0 149.7L435.5 148.0L436.0 147.0L436.5 148.2L437.0 149.9L437.5 150.6L438.0 150.7L438.5 151.2L439.0 151.8L439.5 151.5L440.0 151.5L440.5 151.4L441.0 151.4L441.5 151.0L442.0 151.0L442.5 151.7L443.0 152.4L443.5 152.6L444.0 152.4L444.5 153.2L445.0 153.1L445.5 153.3L446.0 153.1L446.5 153.0L447.0 152.7L447.5 152.3L448.0 153.0L448.5 153.0L449.0 152.8L449.5 152.1L450.0 151.5L450.5 151.8L451.0 151.7L451.5 151.5L452.0 151.0L452.5 150.4L453.0 150.7L453.5 150.7L454.0 151.1L454.5 151.9L455.0 151.3L455.5 151.8L456.0 151.6L456.5 152.8L457.0 153.0L457.5 152.9L458.0 152.4L458.5 152.0L459.0 152.3L459.5 152.0L460.0 152.3L460.5 151.8L461.0 152.1L461.5 151.8L462.0 152.7L462.5 152.3L463.0 152.6L463.5 151.8L464.0 152.3L464.5 152.4L465.0 152.4L465.5 152.6L466.0 151.8L466.5 151.6L467.0 150.7L467.5 151.4L468.0 150.9L468.5 151.0L469.0 150.9L469.5 152.0L470.0 152.6L470.5 152.7L471.0 152.7L471.5 152.1L472.0 151.1L472.5 150.3L473.0 150.6L473.5 151.9L474.0 152.9L474.5 152.5L475.0 153.0L475.5 152.7L476.0 153.5L476.5 152.6L477.0 152.9L477.5 152.6L478.0 152.1L478.5 151.1L479.0 150.3L479.5 150.5L480.0 150.2L480.5 150.6L481.0 150.2L481.5 149.4L482.0 149.4L482.5 148.4L483.0 148.8L483.5 147.3L484.0 147.6L484.5 146.6L485.0 147.0L485.5 146.1L486.0 144.8L486.5 143.2L487.0 141.7L487.5 140.6L488.0 137.8L488.5 134.1L489.0 131.2L489.5 130.4L490.0 131.2L490.5 133.0L491.0 136.2L491.5 139.9L492.0 143.4L492.5 145.1L493.0 146.7L493.5 147.8L494.0 148.6L494.5 149.6L495.0 150.2L495.5 150.9L496.0 151.3L496.5 151.7L497.0 152.4L497.5 152.4L498.0 152.5L498.5 151.7L499.0 151.1L499.5 151.3L500.0 151.5L500.5 151.7L501.0 151.5L501.5 152.4L502.0 153.0L502.5 153.2L503.0 152.5L503.5 152.4L504.0 152.3L504.5 152.3L505.0 152.5L505.5 152.5L506.0 152.3L506.5 152.2L507.0 151.9L507.5 152.5L508.0 151.4L508.5 151.5L509.0 150.9L509.5 151.1L510.0 150.3L510.5 151.6L511.0 151.9L511.5 152.8L512.0 152.4L512.5 152.4L513.0 152.5L513.5 151.5L514.0 151.6L514.5 151.3L515.0 152.0L515.5 152.0L516.0 151.6L516.5 150.7L517.0 150.2L517.5 151.1L518.0 152.0L518.5 152.6L519.0 151.4L519.5 150.2L520.0 149.8L520.5 150.5L521.0 151.3L521.5 151.7L522.0 151.8L522.5 151.5L523.0 151.0L523.5 151.1L524.0 151.7L524.5 152.0L525.0 152.8L525.5 152.7L526.0 152.8L526.5 151.5L527.0 151.4L527.5 151.6L528.0 152.2L528.5 152.3L529.0 152.2L529.5 152.0L530.0 151.3L530.5 149.8L531.0 150.7L531.5 151.8L532.0 153.1L532.5 151.4L533.0 150.6L533.5 151.1L534.0 150.7L534.5 151.1L535.0 150.8L535.5 152.0L536.0 152.4L536.5 151.9L537.0 152.8L537.5 152.0L538.0 151.5L538.5 150.5L539.0 151.3L539.5 151.6L540.0 151.6L540.5 150.2L541.0 148.9L541.5 147.8L542.0 147.2L542.5 146.5L543.0 144.0L543.5 141.4L544.0 139.8L544.5 140.4L545.0 142.5L545.5 145.0L546.0 146.2L546.5 147.6L547.0 148.5L547.5 150.0L548.0 150.5L548.5 150.7L549.0 151.1L549.5 151.3L550.0 151.5L550.5 151.0L551.0 151.0L551.5 150.7L552.0 149.9L552.5 149.6L553.0 149.0L553.5 149.5L554.0 148.3L554.5 147.3L555.0 145.9L555.5 145.0L556.0 144.3L556.5 143.6L557.0 145.0L557.5 145.6L558.0 147.3L558.5 147.9L559.0 149.6L559.5 150.7L560.0 151.3L560.5 152.0L561.0 152.2L561.5 153.2L562.0 152.4L562.5 152.4L563.0 151.2L563.5 151.4L564.0 151.5L564.5 152.2L565.0 152.2L565.5 151.8L566.0 151.5L566.5 152.1L567.0 153.2L567.5 153.3L568.0 153.2L568.5 152.3L569.0 151.9L569.5 151.8L570.0 151.4L570.5 151.3L571.0 151.3L571.5 151.8L572.0 151.6L572.5 152.3L573.0 152.7L573.5 153.3L574.0 152.4L574.5 151.7L575.0 151.2L575.5 151.5L576.0 151.8L576.5 151.8L577.0 152.1L577.5 152.4L578.0 152.1L578.5 151.5L579.0 151.1L579.5 151.6L580.0 151.3L580.5 151.5L581.0 151.7L581.5 152.1L582.0 151.8L582.5 151.3L583.0 151.3L583.5 151.9L584.0 152.5L584.5 152.4L585.0 151.6L585.5 151.8L586.0 152.0L586.5 152.7L587.0 152.2L587.5 151.7L588.0 151.4L588.5 151.3L589.0 152.1L589.5 152.2L590.0 150.8L590.5 150.3L591.0 150.3L591.5 152.0L592.0 152.3L592.5 153.1L593.0 152.9L593.5 152.9L594.0 151.8L594.5 150.0L595.0 148.9L595.5 147.4L596.0 146.1L596.5 144.1L597.0 142.0L597.5 140.5L598.0 139.4L598.5 139.4L599.0 141.0L599.5 142.7L600.0 145.0L600.5 145.8L601.0 147.3L601.5 147.4L602.0 148.6L602.5 149.3L603.0 150.1L603.5 150.2L604.0 149.9L604.5 150.3L605.0 149.6L605.5 149.7L606.0 148.2L606.5 148.4L607.0 148.0L607.5 148.4L608.0 148.9L608.5 149.4L609.0 149.6L609.5 149.8L610.0 149.7L610.5 149.7L611.0 149.9L611.5 150.0L612.0 151.5L612.5 151.3L613.0 152.4L613.5 151.8L614.0 153.0L614.5 152.5L615.0 153.0L615.5 152.5L616.0 152.7L616.5 153.1L617.0 153.5L617.5 153.0L618.0 151.9L618.5 150.2L619.0 150.2L619.5 151.0L620.0 152.2L620.5 152.4L621.0 152.0L621.5 151.6L622.0 151.4L622.5 151.7L623.0 151.3L623.5 151.7L624.0 150.9L624.5 151.6L625.0 151.0L625.5 151.5L626.0 151.1L626.5 150.9L627.0 151.0L627.5 151.0L628.0 152.4L628.5 152.3L629.0 152.5L629.5 151.3L630.0 151.0L630.5 150.3L631.0 150.4L631.5 151.0L632.0 151.4L632.5 151.5L633.0 150.9L633.5 151.4L634.0 151.6L634.5 152.3L635.0 152.5L635.5 152.0L636.0 152.2L636.5 151.8L637.0 152.3L637.5 152.2L638.0 152.2L638.5 151.6L639.0 151.5L639.5 151.2L640.0 151.4L640.5 150.7L641.0 151.5L641.5 151.7L642.0 151.3L642.5 151.2L643.0 152.1L643.5 153.8L644.0 153.2L644.5 152.4L645.0 151.9L645.5 152.5L646.0 152.5L646.5 151.8L647.0 151.7L647.5 152.0L648.0 151.9L648.5 151.4L649.0 151.3L649.5 151.8L650.0 152.1L650.5 152.3L651.0 152.5L651.5 152.3L652.0 151.4L652.5 151.4L653.0 152.0L653.5 153.3L654.0 153.0L654.5 152.4L655.0 152.1L655.5 152.7L656.0 152.8L656.5 152.4L657.0 151.4L657.5 151.3L658.0 150.5L658.5 150.5L659.0 149.9L659.5 149.6L660.0 148.3L660.5 147.4L661.0 147.1L661.5 147.2L662.0 146.6L662.5 145.9L663.0 145.6L663.5 145.6L664.0 144.9L664.5 144.8L665.0 144.7L665.5 145.3L666.0 145.4L666.5 146.3L667.0 147.1L667.5 149.3L668.0 150.0L668.5 150.8L669.0 150.2L669.5 151.4L670.0 151.5L670.5 151.8L671.0 150.9L671.5 151.4L672.0 151.6L672.5 152.4L673.0 152.0L673.5 152.1L674.0 152.3L674.5 152.7L675.0 152.7L675.5 151.8L676.0 150.9L676.5 151.0L677.0 151.9L677.5 152.8L678.0 152.1L678.5 151.8L679.0 152.0L679.5 153.2L680.0 153.5L680.5 153.4L681.0 153.2L681.5 152.1L682.0 152.7L682.5 152.6L683.0 153.8" fill="none" stroke="#000" stroke-width="3.0" stroke-linejoin="round"/>
<path d="M28.0 261.5L28.5 261.9L29.0 262.2L29.5 262.2L30.0 262.8L30.5 262.2L31.0 261.5L31.5 261.7L32.0 262.2L32.5 262.9L33.0 262.4L33.5 262.1L34.0 262.1L34.5 262.1L35.0 261.4L35.5 261.8L36.0 261.4L36.5 262.1L37.0 261.6L37.5 262.3L38.0 261.8L38.5 262.4L39.0 262.6L39.5 263.5L40.0 263.6L40.5 263.0L41.0 261.5L41.5 261.2L42.0 262.0L42.5 263.7L43.0 263.3L43.5 262.8L44.0 262.5L44.5 262.0L45.0 261.8L45.5 261.5L46.0 262.8L46.5 262.8L47.0 263.6L47.5 263.1L48.0 262.7L48.5 262.9L49.0 262.6L49.5 263.5L50.0 263.3L50.5 263.5L51.0 262.8L51.5 262.5L52.0 262.8L52.5 262.8L53.0 262.0L53.5 261.8L54.0 262.7L54.5 263.0L55.0 263.4L55.5 263.6L56.0 264.3L56.5 264.6L57.0 264.4L57.5 263.3L58.0 263.3L58.5 262.9L59.0 263.5L59.5 262.6L60.0 261.9L60.5 261.5L61.0 262.0L61.5 262.1L62.0 262.3L62.5 262.1L63.0 262.8L63.5 263.0L64.0 263.2L64.5 263.4L65.0 263.4L65.5 263.7L66.0 262.9L66.5 263.1L67.0 262.9L67.5 263.4L68.0 263.1L68.5 262.7L69.0 262.6L69.5 262.6L70.0 263.4L70.5 263.8L71.0 263.6L71.5 263.4L72.0 262.9L72.5 263.6L73.0 263.2L73.5 262.8L74.0 263.0L74.5 263.4L75.0 263.5L75.5 262.4L76.0 262.1L76.5 262.1L77.0 262.7L77.5 263.1L78.0 264.2L78.5 264.2L79.0 264.5L79.5 264.4L80.0 264.4L80.5 263.2L81.0 263.1L81.5 263.5L82.0 265.1L82.5 265.3L83.0 265.4L83.5 265.2L84.0 264.2L84.5 264.0L85.0 263.3L85.5 264.4L86.0 264.5L86.5 263.5L87.0 263.3L87.5 262.8L88.0 264.3L88.5 263.6L89.0 264.0L89.5 264.0L90.0 264.3L90.5 263.8L91.0 264.1L91.5 264.2L92.0 264.6L92.5 264.4L93.0 264.0L93.5 264.8L94.0 264.6L94.5 264.9L95.0 264.4L95.5 264.0L96.0 263.4L96.5 263.3L97.0 263.8L97.5 264.8L98.0 264.9L98.5 264.4L99.0 264.1L99.5 264.2L100.0 265.1L100.5 265.0L101.0 264.2L101.5 264.3L102.0 263.9L102.5 264.6L103.0 263.6L103.5 264.2L104.0 263.7L104.5 264.7L105.0 265.1L105.5 265.8L106.0 265.0L106.5 264.0L107.0 263.2L107.5 263.9L108.0 264.4L108.5 264.8L109.0 264.7L109.5 264.8L110.0 265.0L110.5 265.6L111.0 265.3L111.5 265.2L112.0 263.8L112.5 263.4L113.0 263.0L113.5 263.3L114.0 263.9L114.5 264.6L115.0 264.9L115.5 264.6L116.0 264.0L116.5 264.3L117.0 264.3L117.5 264.6L118.0 264.7L118.5 265.1L119.0 265.2L119.5 265.1L120.0 265.0L120.5 265.4L121.0 265.4L121.5 265.7L122.0 265.0L122.5 264.9L123.0 264.4L123.5 264.1L124.0 264.3L124.5 264.2L125.0 264.4L125.5 264.9L126.0 265.1L126.5 265.7L127.0 265.3L127.5 265.7L128.0 265.0L128.5 265.0L129.0 265.7L129.5 266.3L130.0 266.6L130.5 265.7L131.0 265.7L131.5 264.9L132.0 264.5L132.5 264.3L133.0 265.1L133.5 265.3L134.0 265.0L134.5 264.6L135.0 264.7L135.5 264.3L136.0 263.9L136.5 263.9L137.0 263.7L137.5 263.9L138.0 263.7L138.5 263.9L139.0 264.4L139.5 264.5L140.0 264.8L140.5 264.4L141.0 264.3L141.5 264.5L142.0 265.0L142.5 265.1L143.0 265.0L143.5 265.0L144.0 265.2L144.5 265.7L145.0 265.4L145.5 265.5L146.0 265.0L146.5 265.1L147.0 264.4L147.5 264.5L148.0 264.6L148.5 265.1L149.0 264.7L149.5 264.6L150.0 264.1L150.5 264.2L151.0 263.3L151.5 263.6L152.0 262.7L152.5 263.1L153.0 263.2L153.5 263.4L154.0 263.1L154.5 262.7L155.0 262.3L155.5 261.8L156.0 260.8L156.5 260.7L157.0 259.9L157.5 258.6L158.0 254.8L158.5 250.3L159.0 242.3L159.5 231.4L160.0 214.1L160.5 193.8L161.0 168.2L161.5 145.8L162.0 131.2L162.5 132.9L163.0 149.0L163.5 173.3L164.0 198.8L164.5 219.0L165.0 233.8L165.5 243.5L166.0 250.5L166.5 254.5L167.0 258.2L167.5 260.2L168.0 261.4L168.5 261.4L169.0 262.2L169.5 263.1L170.0 263.2L170.5 263.9L171.0 263.5L171.5 264.0L172.0 263.8L172.5 265.0L173.0 265.1L173.5 265.1L174.0 265.0L174.5 265.4L175.0 265.7L175.5 265.6L176.0 265.3L176.5 264.9L177.0 264.3L177.5 263.3L178.0 261.9L178.5 257.9L179.0 253.4L179.5 248.2L180.0 244.4L180.5 242.5L181.0 244.2L181.5 249.2L182.0 254.5L182.5 258.9L183.0 261.4L183.5 263.4L184.0 264.1L184.5 265.2L185.0 265.2L185.5 265.3L186.0 265.3L186.5 265.4L187.0 265.0L187.5 265.1L188.0 265.6L188.5 266.3L189.0 266.2L189.5 265.8L190.0 267.0L190.5 266.7L191.0 266.9L191.5 265.3L192.0 265.5L192.5 266.3L193.0 266.9L193.5 267.3L194.0 266.6L194.5 267.3L195.0 267.1L195.5 266.9L196.0 266.5L196.5 266.3L197.0 267.0L197.5 266.8L198.0 267.1L198.5 266.9L199.0 266.5L199.5 265.9L200.0 266.2L200.5 266.5L201.0 267.2L201.5 266.7L202.0 266.0L202.5 265.4L203.0 266.1L203.5 266.6L204.0 267.0L204.5 265.9L205.0 266.0L205.5 266.0L206.0 266.5L206.5 266.7L207.0 266.6L207.5 266.5L208.0 266.5L208.5 266.9L209.0 267.1L209.5 267.7L210.0 267.7L210.5 267.8L211.0 266.9L211.5 267.3L212.0 266.8L212.5 266.5L213.0 265.7L213.5 266.3L214.0 266.5L214.5 267.4L215.0 267.2L215.5 267.0L216.0 266.5L216.5 267.2L217.0 267.4L217.5 267.0L218.0 266.6L218.5 267.4L219.0 268.3L219.5 268.0L220.0 267.6L220.5 267.3L221.0 267.9L221.5 268.6L222.0 268.5L222.5 268.5L223.0 267.6L223.5 267.9L224.0 267.0L224.5 266.9L225.0 266.8L225.5 266.9L226.0 267.5L226.5 267.1L227.0 267.5L227.5 267.2L228.0 267.2L228.5 267.3L229.0 267.7L229.5 269.0L230.0 268.6L230.5 268.3L231.0 267.0L231.5 267.1L232.0 267.1L232.5 266.9L233.0 267.2L233.5 267.6L234.0 267.1L234.5 267.3L235.0 267.0L235.5 267.4L236.0 267.5L236.5 267.5L237.0 267.7L237.5 268.0L238.0 267.4L238.5 267.7L239.0 267.2L239.5 267.3L240.0 267.0L240.5 266.9L241.0 267.7L241.5 267.2L242.0 267.2L242.5 266.7L243.0 267.9L243.5 267.6L244.0 268.1L244.5 266.9L245.0 267.4L245.5 266.9L246.0 267.8L246.5 267.3L247.0 266.6L247.5 265.9L248.0 266.6L248.5 267.4L249.0 267.7L249.5 267.5L250.0 267.1L250.5 267.0L251.0 266.2L251.5 266.8L252.0 267.6L252.5 267.5L253.0 266.7L253.5 265.5L254.0 265.2L254.5 262.0L255.0 258.9L255.5 255.4L256.0 253.7L256.5 254.0L257.0 256.1L257.5 259.9L258.0 262.1L258.5 264.1L259.0 264.7L259.5 265.7L260.0 265.7L260.5 265.5L261.0 264.0L261.5 263.5L262.0 262.5L262.5 261.6L263.0 259.0L263.5 257.6L264.0 258.2L264.5 260.1L265.0 261.6L265.5 262.5L266.0 263.4L266.5 264.4L267.0 264.2L267.5 264.3L268.0 263.7L268.5 262.4L269.0 258.8L269.5 254.7L270.0 250.1L270.5 245.7L271.0 240.6L271.5 237.6L272.0 237.0L272.5 239.7L273.0 243.1L273.5 247.9L274.0 252.3L274.5 256.9L275.0 259.8L275.5 261.9L276.0 261.8L276.5 260.2L277.0 258.9L277.5 257.2L278.0 256.4L278.5 255.8L279.0 256.8L279.5 259.5L280.0 262.0L280.5 264.9L281.0 266.4L281.5 267.5L282.0 267.9L282.5 267.7L283.0 267.4L283.5 267.1L284.0 266.8L284.5 267.0L285.0 267.0L285.5 267.8L286.0 267.9L286.5 267.3L287.0 267.1L287.5 267.7L288.0 267.8L288.5 267.5L289.0 267.0L289.5 267.2L290.0 267.3L290.5 267.3L291.0 267.4L291.5 267.7L292.0 267.8L292.5 267.9L293.0 267.8L293.5 268.0L294.0 268.5L294.5 268.6L295.0 268.4L295.5 268.4L296.0 268.6L296.5 268.4L297.0 268.1L297.5 267.9L298.0 267.9L298.5 268.3L299.0 267.4L299.5 266.4L300.0 265.4L300.5 263.9L301.0 262.3L301.5 260.7L302.0 260.5L302.5 261.6L303.0 262.9L303.5 265.2L304.0 266.3L304.5 267.1L305.0 267.2L305.5 267.5L306.0 268.1L306.5 268.4L307.0 268.0L307.5 267.7L308.0 267.7L308.5 268.3L309.0 268.6L309.5 269.5L310.0 269.8L310.5 269.7L311.0 269.0L311.5 269.1L312.0 269.3L312.5 268.4L313.0 267.9L313.5 267.8L314.0 269.3L314.5 268.5L315.0 269.1L315.5 268.3L316.0 269.3L316.5 268.6L317.0 268.7L317.5 268.8L318.0 269.0L318.5 269.3L319.0 268.8L319.5 268.6L320.0 268.2L320.5 268.0L321.0 268.1L321.5 268.7L322.0 268.4L322.5 267.7L323.0 267.1L323.5 268.0L324.0 268.8L324.5 268.9L325.0 268.4L325.5 267.4L326.0 267.0L326.5 265.8L327.0 266.2L327.5 266.8L328.0 267.5L328.5 267.1L329.0 266.4L329.5 267.2L330.0 268.4L330.5 269.9L331.0 270.4L331.5 269.4L332.0 267.5L332.5 267.0L333.0 268.0L333.5 268.3L334.0 268.0L334.5 267.5L335.0 268.1L335.5 268.2L336.0 268.6L336.5 269.0L337.0 269.1L337.5 269.2L338.0 269.5L338.5 269.1L339.0 268.4L339.5 267.8L340.0 268.9L340.5 269.4L341.0 269.6L341.5 268.8L342.0 269.1L342.5 268.4L343.0 268.8L343.5 268.6L344.0 268.9L344.5 269.2L345.0 269.4L345.5 269.0L346.0 268.8L346.5 267.8L347.0 268.3L347.5 269.0L348.0 269.9L348.5 269.6L349.0 268.6L349.5 268.7L350.0 268.2L350.5 268.4L351.0 267.9L351.5 267.9L352.0 267.6L352.5 267.6L353.0 267.0L353.5 267.6L354.0 267.5L354.5 267.3L355.0 266.7L355.5 266.3L356.0 266.5L356.5 265.6L357.0 264.1L357.5 261.0L358.0 257.6L358.5 253.7L359.0 249.2L359.5 241.6L360.0 233.5L360.5 226.5L361.0 223.2L361.5 224.7L362.0 230.4L362.5 237.9L363.0 246.3L363.5 252.4L364.0 257.8L364.5 260.6L365.0 263.0L365.5 264.7L366.0 266.1L366.5 267.5L367.0 267.9L367.5 267.6L368.0 267.6L368.5 267.0L369.0 267.3L369.5 267.3L370.0 268.2L370.5 267.8L371.0 267.1L371.5 267.6L372.0 267.9L372.5 267.9L373.0 266.8L373.5 267.1L374.0 268.2L374.5 268.7L375.0 269.2L375.5 268.8L376.0 269.0L376.5 269.0L377.0 268.7L377.5 268.7L378.0 268.2L378.5 268.1L379.0 268.2L379.5 268.1L380.0 268.4L380.5 267.8L381.0 268.1L381.5 267.9L382.0 268.6L382.5 268.7L383.0 268.9L383.5 269.1L384.0 268.0L384.5 267.5L385.0 265.8L385.5 266.9L386.0 267.5L386.5 268.8L387.0 268.9L387.5 268.4L388.0 268.8L388.5 268.9L389.0 269.1L389.5 268.0L390.0 268.0L390.5 267.9L391.0 268.2L391.5 268.1L392.0 268.4L392.5 268.2L393.0 268.6L393.5 268.1L394.0 268.0L394.5 267.6L395.0 268.1L395.5 268.5L396.0 268.2L396.5 268.2L397.0 267.9L397.5 267.4L398.0 267.7L398.5 267.5L399.0 268.0L399.5 268.0L400.0 268.3L400.5 269.4L401.0 268.6L401.5 268.3L402.0 267.2L402.5 268.2L403.0 268.4L403.5 267.7L404.0 267.6L404.5 267.2L405.0 267.6L405.5 267.4L406.0 267.4L406.5 267.1L407.0 266.8L407.5 266.7L408.0 266.6L408.5 265.5L409.0 264.6L409.5 262.7L410.0 260.3L410.5 258.0L411.0 254.6L411.5 250.9L412.0 245.1L412.5 241.2L413.0 239.3L413.5 240.2L414.0 243.2L414.5 246.1L415.0 249.2L415.5 250.2L416.0 252.1L416.5 253.8L417.0 256.2L417.5 257.3L418.0 258.5L418.5 260.1L419.0 261.0L419.5 261.2L420.0 259.7L420.5 257.4L421.0 255.0L421.5 250.7L422.0 247.6L422.5 244.0L423.0 242.7L423.5 243.5L424.0 246.4L424.5 250.8L425.0 254.2L425.5 257.7L426.0 261.0L426.5 263.6L427.0 265.6L427.5 266.5L428.0 267.4L428.5 267.8L429.0 267.5L429.5 267.2L430.0 267.0L430.5 267.6L431.0 268.4L431.5 268.7L432.0 268.6L432.5 268.1L433.0 267.5L433.5 267.0L434.0 266.4L434.5 266.2L435.0 265.4L435.5 264.7L436.0 264.0L436.5 264.0L437.0 264.7L437.5 264.6L438.0 265.8L438.5 266.4L439.0 267.7L439.5 268.0L440.0 267.5L440.5 268.5L441.0 268.4L441.5 269.3L442.0 267.7L442.5 267.9L443.0 268.1L443.5 268.6L444.0 268.5L444.5 268.9L445.0 268.9L445.5 268.5L446.0 268.5L446.5 268.8L447.0 269.1L447.5 269.4L448.0 269.4L448.5 269.4L449.0 268.7L449.5 268.5L450.0 268.6L450.5 268.6L451.0 268.5L451.5 268.3L452.0 268.4L452.5 268.8L453.0 269.1L453.5 269.3L454.0 269.2L454.5 269.2L455.0 268.7L455.5 268.6L456.0 268.8L456.5 268.1L457.0 268.4L457.5 269.2L458.0 269.2L458.5 269.7L459.0 267.8L459.5 268.6L460.0 268.7L460.5 269.9L461.0 269.4L461.5 268.3L462.0 267.2L462.5 267.8L463.0 268.1L463.5 268.7L464.0 268.5L464.5 268.8L465.0 269.0L465.5 268.9L466.0 268.2L466.5 268.5L467.0 267.4L467.5 268.5L468.0 267.7L468.5 268.7L469.0 268.0L469.5 268.1L470.0 268.1L470.5 268.2L471.0 267.9L471.5 268.2L472.0 268.1L472.5 269.0L473.0 268.6L473.5 268.6L474.0 268.2L474.5 268.6L475.0 268.5L475.5 268.2L476.0 268.4L476.5 268.4L477.0 268.1L477.5 267.6L478.0 267.5L478.5 266.8L479.0 266.1L479.5 266.6L480.0 267.7L480.5 268.5L481.0 268.4L481.5 267.5L482.0 267.3L482.5 267.3L483.0 267.0L483.5 266.4L484.0 265.0L484.5 264.4L485.0 263.0L485.5 261.4L486.0 260.7L486.5 259.0L487.0 258.0L487.5 255.4L488.0 253.6L488.5 251.5L489.0 249.7L489.5 249.3L490.0 249.9L490.5 251.7L491.0 252.9L491.5 255.6L492.0 258.4L492.5 261.5L493.0 263.1L493.5 264.7L494.0 266.4L494.5 268.0L495.0 268.6L495.5 268.2L496.0 267.7L496.5 266.8L497.0 267.4L497.5 267.3L498.0 267.5L498.5 267.0L499.0 266.5L499.5 266.3L500.0 266.7L500.5 268.0L501.0 268.7L501.5 268.9L502.0 268.1L502.5 267.9L503.0 268.6L503.5 268.6L504.0 269.0L504.5 268.2L505.0 268.7L505.5 268.5L506.0 268.8L506.5 268.2L507.0 268.2L507.5 268.5L508.0 268.6L508.5 268.4L509.0 268.4L509.5 268.9L510.0 269.6L510.5 268.2L511.0 268.2L511.5 267.3L512.0 267.6L512.5 267.7L513.0 268.6L513.5 268.6L514.0 268.0L514.5 267.4L515.0 267.9L515.5 267.8L516.0 268.9L516.5 269.2L517.0 269.5L517.5 268.5L518.0 269.1L518.5 270.1L519.0 270.2L519.5 269.4L520.0 269.0L520.5 268.8L521.0 268.4L521.5 268.4L522.0 268.6L522.5 268.7L523.0 267.6L523.5 267.6L524.0 268.0L524.5 268.2L525.0 268.0L525.5 267.5L526.0 268.5L526.5 269.1L527.0 269.1L527.5 268.5L528.0 268.6L528.5 268.8L529.0 268.1L529.5 268.0L530.0 267.9L530.5 268.9L531.0 268.2L531.5 268.7L532.0 268.2L532.5 268.0L533.0 268.1L533.5 268.1L534.0 268.9L534.5 268.3L535.0 268.9L535.5 269.1L536.0 269.6L536.5 269.4L537.0 268.3L537.5 267.2L538.0 266.9L538.5 267.0L539.0 267.7L539.5 267.4L540.0 266.8L540.5 265.6L541.0 264.2L541.5 263.2L542.0 262.0L542.5 261.0L543.0 260.2L543.5 258.7L544.0 257.7L544.5 258.2L545.0 260.2L545.5 262.2L546.0 262.3L546.5 263.0L547.0 264.2L547.5 265.7L548.0 267.5L548.5 267.8L549.0 268.4L549.5 267.3L550.0 266.9L550.5 266.5L551.0 266.5L551.5 266.5L552.0 266.5L552.5 266.2L553.0 265.9L553.5 264.2L554.0 262.9L554.5 261.4L555.0 261.5L555.5 260.7L556.0 260.8L556.5 260.6L557.0 262.0L557.5 263.3L558.0 264.6L558.5 265.4L559.0 266.0L559.5 267.1L560.0 267.3L560.5 267.9L561.0 267.7L561.5 269.1L562.0 269.4L562.5 269.4L563.0 268.5L563.5 268.9L564.0 269.3L564.5 269.8L565.0 268.7L565.5 268.5L566.0 268.6L566.5 269.0L567.0 268.7L567.5 268.9L568.0 268.8L568.5 268.8L569.0 268.7L569.5 268.5L570.0 269.2L570.5 268.6L571.0 268.8L571.5 267.9L572.0 268.3L572.5 267.5L573.0 268.2L573.5 267.1L574.0 267.7L574.5 267.9L575.0 269.1L575.5 269.5L576.0 268.9L576.5 269.3L577.0 269.4L577.5 269.4L578.0 268.5L578.5 267.6L579.0 268.1L579.5 268.5L580.0 267.7L580.5 268.0L581.0 267.8L581.5 268.3L582.0 268.5L582.5 268.4L583.0 269.3L583.5 269.1L584.0 269.1L584.5 269.1L585.0 269.2L585.5 269.1L586.0 268.0L586.5 267.5L587.0 267.9L587.5 268.4L588.0 269.3L588.5 269.1L589.0 269.3L589.5 268.7L590.0 268.3L590.5 268.1L591.0 267.6L591.5 267.0L592.0 266.3L592.5 266.7L593.0 267.3L593.5 267.8L594.0 266.6L594.5 266.1L595.0 265.7L595.5 265.4L596.0 264.1L596.5 262.8L597.0 260.9L597.5 259.1L598.0 257.4L598.5 255.8L599.0 256.2L599.5 256.4L600.0 258.4L600.5 259.7L601.0 261.9L601.5 263.7L602.0 265.1L602.5 265.8L603.0 266.8L603.5 267.5L604.0 267.7L604.5 267.4L605.0 266.6L605.5 265.8L606.0 265.8L606.5 266.1L607.0 267.0L607.5 266.3L608.0 267.6L608.5 267.1L609.0 268.0L609.5 267.6L610.0 267.8L610.5 267.7L611.0 266.7L611.5 266.8L612.0 266.4L612.5 267.2L613.0 268.0L613.5 268.6L614.0 269.1L614.5 269.5L615.0 269.7L615.5 269.1L616.0 268.5L616.5 268.4L617.0 269.0L617.5 269.2L618.0 269.2L618.5 268.7L619.0 268.8L619.5 268.8L620.0 269.0L620.5 268.8L621.0 269.4L621.5 269.8L622.0 269.3L622.5 268.7L623.0 268.5L623.5 268.9L624.0 269.3L624.5 269.1L625.0 269.5L625.5 269.2L626.0 269.2L626.5 269.2L627.0 268.7L627.5 268.2L628.0 267.6L628.5 268.8L629.0 269.3L629.5 269.8L630.0 269.3L630.5 268.9L631.0 268.5L631.5 268.8L632.0 268.8L632.5 269.7L633.0 269.5L633.5 269.7L634.0 269.0L634.5 268.9L635.0 268.9L635.5 269.5L636.0 270.5L636.5 270.0L637.0 269.5L637.5 268.9L638.0 269.0L638.5 268.7L639.0 268.2L639.5 267.7L640.0 268.2L640.5 268.3L641.0 269.2L641.5 269.0L642.0 269.1L642.5 270.0L643.0 270.1L643.5 270.3L644.0 269.2L644.5 269.3L645.0 268.8L645.5 269.0L646.0 268.5L646.5 268.3L647.0 268.5L647.5 269.2L648.0 269.6L648.5 269.2L649.0 269.0L649.5 267.9L650.0 268.5L650.5 268.4L651.0 269.4L651.5 269.5L652.0 269.3L652.5 269.6L653.0 269.0L653.5 269.3L654.0 268.8L654.5 269.0L655.0 269.3L655.5 269.2L656.0 268.8L656.5 268.1L657.0 268.4L657.5 269.6L658.0 269.3L658.5 268.2L659.0 266.7L659.5 266.0L660.0 266.1L660.5 265.9L661.0 265.5L661.5 264.7L662.0 263.2L662.5 262.8L663.0 261.9L663.5 262.3L664.0 261.9L664.5 261.5L665.0 260.8L665.5 260.7L666.0 261.8L666.5 262.1L667.0 262.9L667.5 264.2L668.0 265.6L668.5 266.5L669.0 266.5L669.5 266.6L670.0 267.4L670.5 267.9L671.0 268.7L671.5 268.8L672.0 269.2L672.5 268.5L673.0 268.6L673.5 268.1L674.0 269.0L674.5 268.6L675.0 268.5L675.5 268.8L676.0 269.1L676.5 269.4L677.0 268.9L677.5 269.0L678.0 269.1L678.5 268.3L679.0 268.0L679.5 267.9L680.0 269.1L680.5 270.0L681.0 269.7L681.5 270.2L682.0 269.7L682.5 270.3L683.0 269.4" fill="none" stroke="#dc2a1c" stroke-width="2.9" stroke-linejoin="round"/>
<path d="M27.2 0V440" stroke="#000" stroke-width="2.3" fill="none"/>
<path d="M26.2 1.5H685" stroke="#000" stroke-width="3" fill="none"/>
<path d="M683.8 0V437" stroke="#000" stroke-width="2.5" fill="none"/>
<path d="M26.2 431.7H685" stroke="#000" stroke-width="1.9" fill="none"/>
<path d="M70.6 432V436.8M114.4 432V440.3M158.2 432V436.8M202.0 432V440.3M245.8 432V436.8M289.6 432V440.3M333.4 432V436.8M377.2 432V440.3M421.0 432V436.8M464.8 432V440.3M508.6 432V436.8M552.4 432V440.3M596.2 432V436.8M640.0 432V440.3" stroke="#000" stroke-width="1.9" fill="none"/>
<text x="17.65" y="451.80" fill="#000" stroke="#000" stroke-width="0.25" font-family="Liberation Sans" font-size="17.00" style="font-kerning:none"> 0</text>
<path d="M605 0V1237L244 893V1063L620 1409H792V0Z" fill="#000" stroke="#000" stroke-width="30.1" transform="translate(17.65 451.80) scale(0.00830 -0.00830)"/>
<text x="105.25" y="451.80" fill="#000" stroke="#000" stroke-width="0.25" font-family="Liberation Sans" font-size="17.00" style="font-kerning:none">20</text>
<text x="192.85" y="451.80" fill="#000" stroke="#000" stroke-width="0.25" font-family="Liberation Sans" font-size="17.00" style="font-kerning:none">30</text>
<text x="280.45" y="451.80" fill="#000" stroke="#000" stroke-width="0.25" font-family="Liberation Sans" font-size="17.00" style="font-kerning:none">40</text>
<text x="368.05" y="451.80" fill="#000" stroke="#000" stroke-width="0.25" font-family="Liberation Sans" font-size="17.00" style="font-kerning:none">50</text>
<text x="455.65" y="451.80" fill="#000" stroke="#000" stroke-width="0.25" font-family="Liberation Sans" font-size="17.00" style="font-kerning:none">60</text>
<text x="543.25" y="451.80" fill="#000" stroke="#000" stroke-width="0.25" font-family="Liberation Sans" font-size="17.00" style="font-kerning:none">70</text>
<text x="630.85" y="451.80" fill="#000" stroke="#000" stroke-width="0.25" font-family="Liberation Sans" font-size="17.00" style="font-kerning:none">80</text>
<text x="165.70" y="22.10" fill="#000" stroke="#000" stroke-width="0.25" font-family="Liberation Sans" font-size="17.50" style="font-kerning:none">( 0 )</text>
<path d="M605 0V1237L244 893V1063L620 1409H792V0Z" fill="#000" stroke="#000" stroke-width="29.3" transform="translate(171.53 22.10) scale(0.00854 -0.00854)"/>
<path d="M605 0V1237L244 893V1063L620 1409H792V0Z" fill="#000" stroke="#000" stroke-width="29.3" transform="translate(190.99 22.10) scale(0.00854 -0.00854)"/>
<text x="167.40" y="97.70" fill="#3c4baa" stroke="#3c4baa" stroke-width="0.25" font-family="Liberation Sans" font-size="17.50" style="font-kerning:none">(  0)</text>
<path d="M605 0V1237L244 893V1063L620 1409H792V0Z" fill="#3c4baa" stroke="#3c4baa" stroke-width="29.3" transform="translate(173.23 97.70) scale(0.00854 -0.00854)"/>
<path d="M605 0V1237L244 893V1063L620 1409H792V0Z" fill="#3c4baa" stroke="#3c4baa" stroke-width="29.3" transform="translate(182.96 97.70) scale(0.00854 -0.00854)"/>
<text x="258.10" y="79.20" fill="#000" stroke="#000" stroke-width="0.25" font-family="Liberation Sans" font-size="17.50" style="font-kerning:none">(004)</text>
<text x="226.30" y="104.40" fill="#000" stroke="#000" stroke-width="0.25" font-family="Liberation Sans" font-size="17.50" style="font-kerning:none">( 03)</text>
<path d="M605 0V1237L244 893V1063L620 1409H792V0Z" fill="#000" stroke="#000" stroke-width="29.3" transform="translate(232.13 104.40) scale(0.00854 -0.00854)"/>
<text x="273.60" y="114.60" fill="#000" stroke="#000" stroke-width="0.25" font-family="Liberation Sans" font-size="17.50" style="font-kerning:none">(  2)</text>
<path d="M605 0V1237L244 893V1063L620 1409H792V0Z" fill="#000" stroke="#000" stroke-width="29.3" transform="translate(279.43 114.60) scale(0.00854 -0.00854)"/>
<path d="M605 0V1237L244 893V1063L620 1409H792V0Z" fill="#000" stroke="#000" stroke-width="29.3" transform="translate(289.16 114.60) scale(0.00854 -0.00854)"/>
<text x="210.50" y="120.10" fill="#3c4baa" stroke="#3c4baa" stroke-width="0.25" font-family="Liberation Sans" font-size="17.50" style="font-kerning:none">( 0 )</text>
<path d="M605 0V1237L244 893V1063L620 1409H792V0Z" fill="#3c4baa" stroke="#3c4baa" stroke-width="29.3" transform="translate(216.33 120.10) scale(0.00854 -0.00854)"/>
<path d="M605 0V1237L244 893V1063L620 1409H792V0Z" fill="#3c4baa" stroke="#3c4baa" stroke-width="29.3" transform="translate(235.79 120.10) scale(0.00854 -0.00854)"/>
<text x="297.00" y="129.20" fill="#3c4baa" stroke="#3c4baa" stroke-width="0.25" font-family="Liberation Sans" font-size="17.50" style="font-kerning:none">(   )</text>
<path d="M605 0V1237L244 893V1063L620 1409H792V0Z" fill="#3c4baa" stroke="#3c4baa" stroke-width="29.3" transform="translate(302.83 129.20) scale(0.00854 -0.00854)"/>
<path d="M605 0V1237L244 893V1063L620 1409H792V0Z" fill="#3c4baa" stroke="#3c4baa" stroke-width="29.3" transform="translate(312.56 129.20) scale(0.00854 -0.00854)"/>
<path d="M605 0V1237L244 893V1063L620 1409H792V0Z" fill="#3c4baa" stroke="#3c4baa" stroke-width="29.3" transform="translate(322.29 129.20) scale(0.00854 -0.00854)"/>
<text x="340.10" y="79.50" fill="#000" stroke="#000" stroke-width="0.25" font-family="Liberation Sans" font-size="17.50" style="font-kerning:none">(200)</text>
<text x="384.50" y="98.10" fill="#000" stroke="#000" stroke-width="0.25" font-family="Liberation Sans" font-size="17.50" style="font-kerning:none">( 05)</text>
<path d="M605 0V1237L244 893V1063L620 1409H792V0Z" fill="#000" stroke="#000" stroke-width="29.3" transform="translate(390.33 98.10) scale(0.00854 -0.00854)"/>
<text x="420.00" y="86.70" fill="#000" stroke="#000" stroke-width="0.25" font-family="Liberation Sans" font-size="17.50" style="font-kerning:none">(2  )</text>
<path d="M605 0V1237L244 893V1063L620 1409H792V0Z" fill="#000" stroke="#000" stroke-width="29.3" transform="translate(435.56 86.70) scale(0.00854 -0.00854)"/>
<path d="M605 0V1237L244 893V1063L620 1409H792V0Z" fill="#000" stroke="#000" stroke-width="29.3" transform="translate(445.29 86.70) scale(0.00854 -0.00854)"/>
<text x="469.00" y="99.70" fill="#000" stroke="#000" stroke-width="0.25" font-family="Liberation Sans" font-size="17.50" style="font-kerning:none">(204)</text>
<text x="522.10" y="103.70" fill="#000" stroke="#000" stroke-width="0.25" font-family="Liberation Sans" font-size="17.50" style="font-kerning:none">(  6)</text>
<path d="M605 0V1237L244 893V1063L620 1409H792V0Z" fill="#000" stroke="#000" stroke-width="29.3" transform="translate(527.93 103.70) scale(0.00854 -0.00854)"/>
<path d="M605 0V1237L244 893V1063L620 1409H792V0Z" fill="#000" stroke="#000" stroke-width="29.3" transform="translate(537.66 103.70) scale(0.00854 -0.00854)"/>
<text x="578.70" y="111.00" fill="#000" stroke="#000" stroke-width="0.25" font-family="Liberation Sans" font-size="17.50" style="font-kerning:none">(2 5)</text>
<path d="M605 0V1237L244 893V1063L620 1409H792V0Z" fill="#000" stroke="#000" stroke-width="29.3" transform="translate(594.26 111.00) scale(0.00854 -0.00854)"/>
<text x="641.20" y="105.20" fill="#000" stroke="#000" stroke-width="0.25" font-family="Liberation Sans" font-size="17.50" style="font-kerning:none">(224)</text>
<path d="M169.7 113.1L178.1 104.7L186.5 113.1L178.1 121.5Z" fill="#fff" stroke="#000" stroke-width="1.4"/>
<path d="M244.6 128.9L252.9 120.6L261.2 128.9L252.9 137.2Z" fill="#fff" stroke="#000" stroke-width="1.4"/>
<path d="M294.8 135.9L303.4 127.7L312.0 135.9L303.4 144.1Z" fill="#fff" stroke="#000" stroke-width="1.4"/>
<path d="M145.2 17.1L154.2 7.9L163.2 17.1L154.2 26.3Z" fill="#000"/>
<path d="M262.3 106.9L271.3 97.8L280.3 106.9L271.3 116.0Z" fill="#000"/>
<path d="M257.3 127.5L266.1 118.4L274.9 127.5L266.1 136.6Z" fill="#000"/>
<path d="M271.4 128.1L280.6 119.2L289.8 128.1L280.6 137.0Z" fill="#000"/>
<path d="M352.8 95.5L362.0 86.6L371.2 95.5L362.0 104.4Z" fill="#000"/>
<path d="M400.2 115.1L409.4 106.0L418.6 115.1L409.4 124.2Z" fill="#000"/>
<path d="M415.1 116.7L424.3 107.9L433.5 116.7L424.3 125.5Z" fill="#000"/>
<path d="M478.8 120.9L487.9 111.8L497.0 120.9L487.9 130.0Z" fill="#000"/>
<path d="M533.7 125.6L543.0 116.3L552.3 125.6L543.0 134.9Z" fill="#000"/>
<path d="M587.8 123.0L596.9 113.9L606.0 123.0L596.9 132.1Z" fill="#000"/>
<path d="M655.6 128.3L664.9 119.0L674.2 128.3L664.9 137.6Z" fill="#000"/>
<path d="M472.9 17.6L483.8 6.8L494.7 17.6L483.8 28.4Z" fill="#000"/>
<path d="M473.6 50.1L483.8 40.1L494.0 50.1L483.8 60.1Z" fill="#fff" stroke="#000" stroke-width="1.4"/>
<text x="504.1" y="27.6" font-family="Liberation Sans" font-size="25">anatase</text>
<text x="504.6" y="59.7" font-family="Liberation Sans" font-size="25">rutile</text>
<text x="645.7" y="45.9" font-family="Liberation Serif" font-size="20.7" stroke="#000" stroke-width="0.3">P25</text>
<text x="529.1" y="183.7" font-family="Liberation Serif" font-size="20.3" stroke="#000" stroke-width="0.3">(6mL)N-CDs/P25</text>
<text x="619.5" y="321.4" font-family="Liberation Serif" font-size="20.7" stroke="#000" stroke-width="0.3">N-CDs</text>
<text x="305.7" y="466.1" font-family="Liberation Serif" font-weight="bold" font-size="24.3">2</text>
<text transform="translate(318.4 466.1) scale(0.96 0.93)" font-family="Liberation Serif" font-weight="bold" font-size="24.3">θ</text>
<text x="330.5" y="466.1" font-family="Liberation Serif" font-weight="bold" font-size="24.3">(degree)</text>
<text transform="translate(17 305.3) rotate(-90)" font-family="Liberation Serif" font-weight="bold" font-size="25">Intensity(a.u)</text>
</svg>
</body></html>
